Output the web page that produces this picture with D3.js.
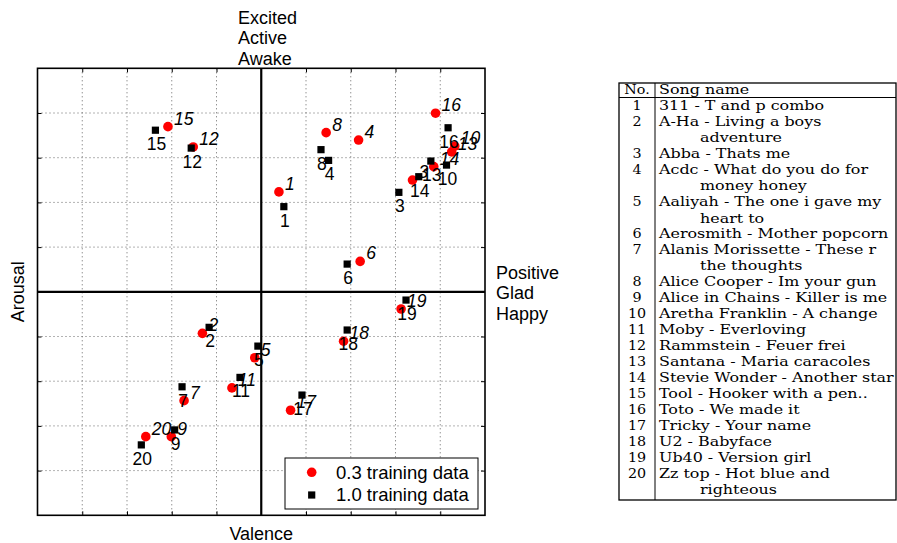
<!DOCTYPE html>
<html><head><meta charset="utf-8">
<script src="https://cdn.jsdelivr.net/npm/d3@7"></script>
<style>body{margin:0;background:#fff}</style>
</head><body>
<svg id="chart" width="897" height="543"></svg>
<script>
// ---------------- data ----------------
const songIds = [1,2,3,4,5,6,7,8,9,10,11,12,13,14,15,16,17,18,19,20];
const valence03 = [0.079,-0.263,0.676,0.435,-0.029,0.442,-0.345,0.290,-0.402,0.865,-0.131,-0.304,0.851,0.771,-0.417,0.779,0.131,0.368,0.625,-0.516];
const arousal03 = [0.447,-0.186,0.500,0.679,-0.295,0.136,-0.487,0.712,-0.648,0.652,-0.430,0.648,0.626,0.560,0.739,0.799,-0.530,-0.221,-0.077,-0.648];
const valence10 = [0.101,-0.233,0.615,0.301,-0.015,0.384,-0.354,0.267,-0.387,0.828,-0.095,-0.313,0.758,0.704,-0.473,0.835,0.182,0.384,0.647,-0.536];
const arousal10 = [0.381,-0.159,0.445,0.588,-0.243,0.124,-0.425,0.636,-0.618,0.567,-0.383,0.643,0.585,0.515,0.723,0.734,-0.462,-0.171,-0.037,-0.685];
const seriesNames = ["0.3 training data","1.0 training data"];
const gridTicks = [-1,-0.8,-0.6,-0.4,-0.2,0,0.2,0.4,0.6,0.8,1];
const arousalWords = ["Excited","Active","Awake"];
const valenceWords = ["Positive","Glad","Happy"];
const tableHeader = ["No.","Song name"];
const songNames = [
  "311 - T and p combo",
  "A-Ha - Living a boys|adventure",
  "Abba - Thats me",
  "Acdc - What do you do for|money honey",
  "Aaliyah - The one i gave my|heart to",
  "Aerosmith - Mother popcorn",
  "Alanis Morissette - These r|the thoughts",
  "Alice Cooper - Im your gun",
  "Alice in Chains - Killer is me",
  "Aretha Franklin - A change",
  "Moby - Everloving",
  "Rammstein - Feuer frei",
  "Santana - Maria caracoles",
  "Stevie Wonder - Another star",
  "Tool - Hooker with a pen..",
  "Toto - We made it",
  "Tricky - Your name",
  "U2 - Babyface",
  "Ub40 - Version girl",
  "Zz top - Hot blue and|righteous"
];

// ---------------- chart ----------------
const svg = d3.select("#chart");
const sans = "'Liberation Sans', Arial, sans-serif";
const L = 37.5, R = 485, T = 68.3, B = 515.3;
const x = d3.scaleLinear().domain([-1,1]).range([L,R]);
const y = d3.scaleLinear().domain([-1,1]).range([B,T]);

const inner = gridTicks.filter(t => t > -1 && t < 1 && t !== 0);
const g = svg.append("g");

// dotted grid
g.selectAll(".gx").data(inner).join("line")
  .attr("x1", d => x(d)).attr("x2", d => x(d)).attr("y1", T).attr("y2", B)
  .attr("stroke", "#666").attr("stroke-width", 1).attr("stroke-dasharray", "1,3");
g.selectAll(".gy").data(inner).join("line")
  .attr("y1", d => y(d)).attr("y2", d => y(d)).attr("x1", L).attr("x2", R)
  .attr("stroke", "#666").attr("stroke-width", 1).attr("stroke-dasharray", "1,3");

// inside ticks via d3 axes
const tk = 4;
const axTop = d3.axisBottom(x).tickValues(inner).tickSize(tk).tickFormat("");
const axBot = d3.axisTop(x).tickValues(inner).tickSize(tk).tickFormat("");
const axLeft = d3.axisRight(y).tickValues(inner).tickSize(tk).tickFormat("");
const axRight = d3.axisLeft(y).tickValues(inner).tickSize(tk).tickFormat("");
[[axTop,`translate(0,${T})`],[axBot,`translate(0,${B})`],[axLeft,`translate(${L},0)`],[axRight,`translate(${R},0)`]]
  .forEach(([ax,tr]) => {
    const a = g.append("g").attr("transform", tr).call(ax);
    a.select(".domain").remove();
    a.selectAll("line").attr("stroke","#000").attr("stroke-width",1);
  });

// centre axes
g.append("line").attr("x1", x(0)).attr("x2", x(0)).attr("y1", T).attr("y2", B)
  .attr("stroke","#000").attr("stroke-width",2.2);
g.append("line").attr("x1", L).attr("x2", R).attr("y1", y(0)).attr("y2", y(0))
  .attr("stroke","#000").attr("stroke-width",2.2);

// frame
g.append("rect").attr("x", L).attr("y", T).attr("width", R-L).attr("height", B-T)
  .attr("fill","none").attr("stroke","#000").attr("stroke-width",1.6);

const pts03 = songIds.map((id,i) => ({id, v: valence03[i], a: arousal03[i]}));
const pts10 = songIds.map((id,i) => ({id, v: valence10[i], a: arousal10[i]}));

g.selectAll(".p03").data(pts03).join("circle")
  .attr("cx", d => x(d.v)).attr("cy", d => y(d.a)).attr("r", 4.8).attr("fill","#ff0000");
g.selectAll(".p10").data(pts10).join("rect")
  .attr("x", d => x(d.v)-3.6).attr("y", d => y(d.a)-3.6).attr("width",7.2).attr("height",7.2).attr("fill","#000");

g.selectAll(".l03").data(pts03).join("text")
  .attr("x", d => x(d.v)+6).attr("y", d => y(d.a)-2)
  .attr("font-family", sans).attr("font-size", 17.5).attr("font-style","italic")
  .text(d => d.id);
g.selectAll(".l10").data(pts10).join("text")
  .attr("x", d => x(d.v)+1).attr("y", d => y(d.a)+20).attr("text-anchor","middle")
  .attr("font-family", sans).attr("font-size", 17.5)
  .text(d => d.id);

// axis titles
svg.append("text").attr("transform", `translate(24,${y(0)}) rotate(-90)`).attr("text-anchor","middle")
  .attr("font-family", sans).attr("font-size", 18).text("Arousal");
svg.append("text").attr("x", x(0)).attr("y", 540).attr("text-anchor","middle")
  .attr("font-family", sans).attr("font-size", 18).text("Valence");
arousalWords.forEach((w,i) => svg.append("text").attr("x", 238).attr("y", 23.5 + i*20.5)
  .attr("font-family", sans).attr("font-size", 18).text(w));
valenceWords.forEach((w,i) => svg.append("text").attr("x", 496).attr("y", 278.5 + i*20.5)
  .attr("font-family", sans).attr("font-size", 18).text(w));

// legend
const lg = svg.append("g");
lg.append("rect").attr("x", 285).attr("y", 458).attr("width", 193).attr("height", 51)
  .attr("fill","#fff").attr("stroke","#000").attr("stroke-width",1);
lg.append("circle").attr("cx", 311.7).attr("cy", 472.3).attr("r", 4.8).attr("fill","#ff0000");
lg.append("rect").attr("x", 311.7-3.6).attr("y", 495-3.6).attr("width",7.2).attr("height",7.2).attr("fill","#000");
seriesNames.forEach((s,i) => lg.append("text").attr("x", 336).attr("y", 478.5 + i*22.7)
  .attr("font-family", sans).attr("font-size", 18.5).text(s));

// ---------------- table ----------------
const serif = "'DejaVu Serif', serif";
const tb = svg.append("g");
const tL = 619, tR = 896, tT = 83, colX = 655, lh = 16, fs = 13;

let lines = [];
songIds.forEach((id,i) => {
  songNames[i].split("|").forEach((part,j) => lines.push({no: j===0 ? id : "", text: part, cont: j>0}));
});
const tB = tT + lh*(lines.length+1) + 1;

const nameG = tb.append("g");
nameG.append("text").attr("x", 0).attr("y", tT + 11.5)
  .attr("font-family", serif).attr("font-size", fs).text(tableHeader[1]);
lines.forEach((ln,k) => {
  const by = tT + 11.5 + lh*(k+1);
  if (ln.no !== "") tb.append("text").attr("x", 637).attr("y", by).attr("text-anchor","middle")
    .attr("font-family", serif).attr("font-size", fs).attr("transform", `translate(637,0) scale(1.1,1) translate(-637,0)`).text(ln.no);
  nameG.append("text").attr("class", ln.cont ? "cont" : "first").attr("x", 0).attr("y", by)
    .attr("font-family", serif).attr("font-size", fs).text(ln.text);
});
let maxW = 0;
nameG.selectAll("text").each(function(){ maxW = Math.max(maxW, this.getComputedTextLength()); });
const sx = 235 / maxW;
nameG.attr("transform", `translate(${colX+4},0) scale(${sx},1)`);
nameG.selectAll("text.cont").attr("x", 41 / sx);

tb.append("text").attr("x", 637).attr("y", tT + 11.5).attr("text-anchor","middle")
  .attr("font-family", serif).attr("font-size", fs).attr("transform", `translate(637,0) scale(1.1,1) translate(-637,0)`).text(tableHeader[0]);

tb.append("rect").attr("x", tL).attr("y", tT).attr("width", tR-tL).attr("height", tB-tT)
  .attr("fill","none").attr("stroke","#000").attr("stroke-width",1.3);
tb.append("line").attr("x1", tL).attr("x2", tR).attr("y1", tT+14.5).attr("y2", tT+14.5)
  .attr("stroke","#000").attr("stroke-width",1);
tb.append("line").attr("x1", colX).attr("x2", colX).attr("y1", tT).attr("y2", tB)
  .attr("stroke","#000").attr("stroke-width",1);
</script>
</body></html>
